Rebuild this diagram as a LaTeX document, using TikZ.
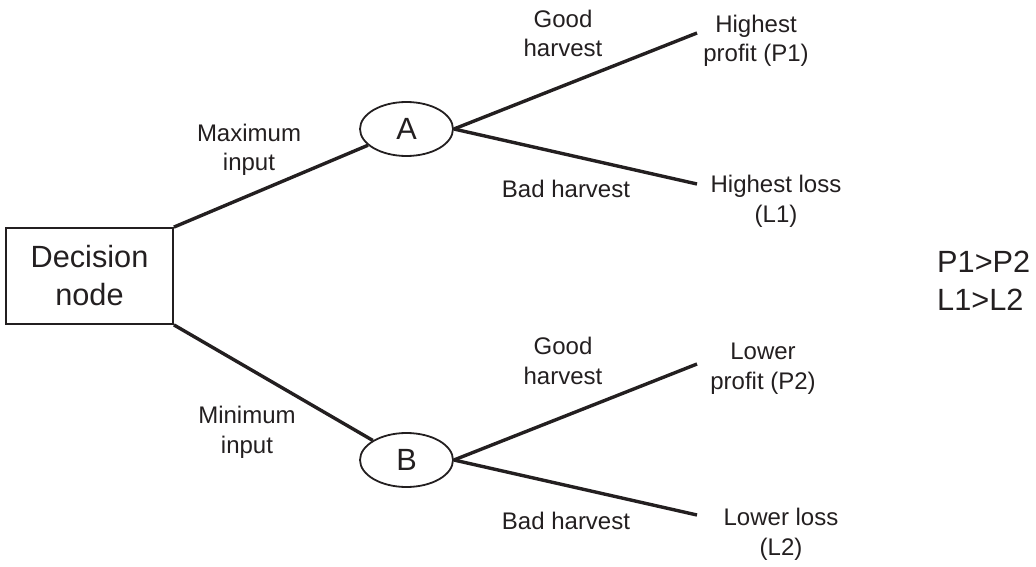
\documentclass[tikz,border=0pt]{standalone}
\usepackage{fontspec}
\setmainfont{Liberation Sans}
\usetikzlibrary{shapes.geometric}
\definecolor{ink}{RGB}{35,31,32}
\begin{document}
\begin{tikzpicture}[x=1pt,y=-1pt,
  lbl/.style={font=\fontsize{24}{29.5}\selectfont,text=ink,align=center,inner sep=0pt,anchor=base},
  big/.style={font=\fontsize{30.7}{38}\selectfont,text=ink,inner sep=0pt},
  branch/.style={draw=ink,line width=3.4pt},
  chance/.style={ellipse,draw=ink,line width=1.8pt,minimum width=93pt,minimum height=54pt,inner sep=0pt,font=\fontsize{30.7}{38}\selectfont,text=ink}]
\useasboundingbox (0,0) rectangle (1036,567);
% decision box
\node[draw=ink,line width=1.8pt,minimum width=167pt,minimum height=96pt,inner sep=0pt,align=center,big] (dec) at (89.5,276) {Decision\\node};
% chance nodes
\node[chance] (A) at (406.5,129) {A};
\node[chance] (B) at (406.5,460) {B};
% end points
\coordinate (a1) at (697,33);
\coordinate (a2) at (697,184);
\coordinate (b1) at (697,364);
\coordinate (b2) at (697,515);
% connectors
\draw[branch] (dec.north east) -- (A);
\draw[branch] (dec.south east) -- (B);
\draw[branch] (A.east) -- (a1);
\draw[branch] (A.east) -- (a2);
\draw[branch] (B.east) -- (b1);
\draw[branch] (B.east) -- (b2);
% labels (anchor = baseline of last line)
\node[lbl] (lmax) at (249,171) {Maximum\\input};
\node[lbl] (lmin) at (247,453) {Minimum\\input};
\node[lbl] (lg1) at (563,57) {Good\\harvest};
\node[lbl] (lb1) at (566,197) {Bad harvest};
\node[lbl] (lg2) at (563,384) {Good\\harvest};
\node[lbl] (lb2) at (566,529) {Bad harvest};
\node[lbl] (o1) at (756,62) {Highest\\profit (P1)};
\node[lbl] (o2) at (776,222) {Highest loss\\(L1)};
\node[lbl] (o3) at (763,389) {Lower\\profit (P2)};
\node[lbl] (o4) at (781,555) {Lower loss\\(L2)};
\node[big,align=left,anchor=base west] (cmp) at (937,310) {P1>P2\\L1>L2};
\end{tikzpicture}
\end{document}
